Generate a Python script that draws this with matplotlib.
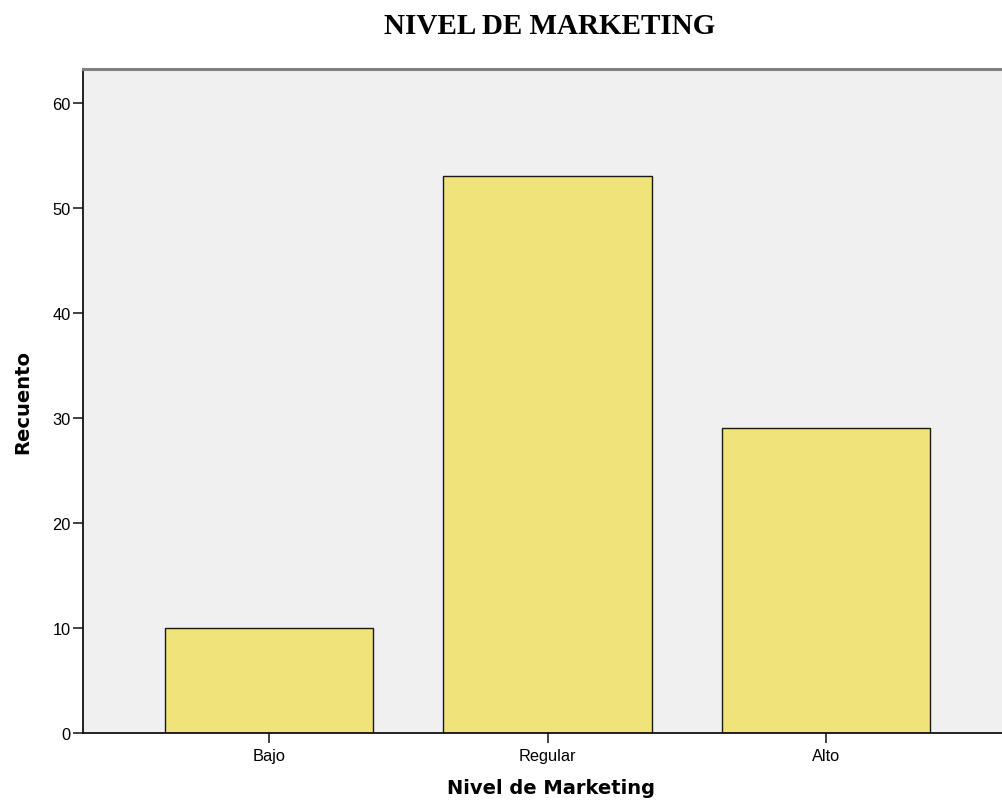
import matplotlib
matplotlib.use("Agg")
import matplotlib.pyplot as plt

categories = ["Bajo", "Regular", "Alto"]
counts = [10, 53, 29]
yticks = [0, 10, 20, 30, 40, 50, 60]

W, H = 1002, 804
fig = plt.figure(figsize=(W / 100, H / 100), dpi=100)
left, right, top, bottom = 83, 1002, 70, 734
ax = fig.add_axes([left / W, 1 - bottom / H, (right - left) / W, (bottom - top) / H])
ax.set_facecolor("#f0f0f0")

x = list(range(len(categories)))
ax.bar(x, counts, width=0.747, color="#efe37a", edgecolor="#1a1a1a", linewidth=1.0, zorder=2)

ax.set_xlim(-0.668, 2.632)
ax.set_ylim(0, 63.2)
ax.set_xticks(x)
ax.set_xticklabels(categories, fontsize=11.8, family="Liberation Sans")
ax.set_yticks(yticks)
ax.set_yticklabels([str(v) for v in yticks], fontsize=11.8, family="Liberation Sans")
ax.tick_params(axis="both", length=7, width=1.2, color="#222222")
ax.tick_params(axis="x", pad=4)
ax.tick_params(axis="y", pad=2)

ax.spines["right"].set_visible(False)
ax.spines["top"].set_color("#808080")
ax.spines["top"].set_linewidth(2.2)
for s in ("left", "bottom"):
    ax.spines[s].set_color("#111111")
    ax.spines[s].set_linewidth(1.3)

ax.set_ylabel("Recuento", fontsize=14, fontweight="bold", family="DejaVu Sans", va="center")
ax.yaxis.set_label_coords((23 - left) / (right - left), (bottom - 402) / (bottom - top))
ax.set_xlabel("Nivel de Marketing", fontsize=14, fontweight="bold", family="DejaVu Sans", va="center")
ax.xaxis.set_label_coords((551 - left) / (right - left), -(789 - bottom) / (bottom - top))

fig.text(550 / W, 1 - 27 / H, "NIVEL DE MARKETING", ha="center", va="center",
         fontsize=21, fontweight="bold", family="Liberation Serif")

fig.savefig("out.png", dpi=100, facecolor="white")
